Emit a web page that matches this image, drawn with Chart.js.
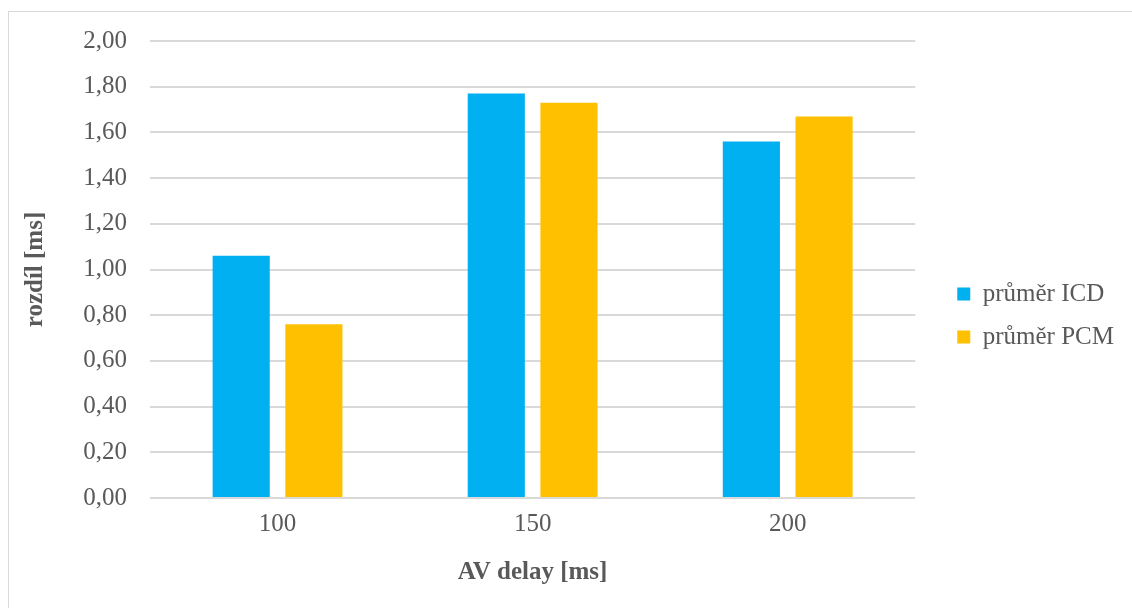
<!DOCTYPE html>
<html>
<head>
<meta charset="utf-8">
<script src="https://cdn.jsdelivr.net/npm/chart.js@4/dist/chart.umd.min.js"></script>
<style>
  html, body { margin: 0; padding: 0; background: #fff; overflow: hidden; }
  #frame { position: absolute; left: 8px; top: 11px; width: 1200px; height: 700px; border: 1px solid #d9d9d9; }
  #chart { position: absolute; left: 0; top: 0; }
</style>
</head>
<body>
<div id="frame"></div>
<canvas id="chart" width="1132" height="608"></canvas>
<script>
const categories = ['100', '150', '200'];
const icdValues = [1.06, 1.77, 1.56];
const pcmValues = [0.76, 1.73, 1.67];
const seriesNames = ['průměr ICD', 'průměr PCM'];
const yTicks = { min: 0, max: 2, step: 0.2 };

const font = 'Liberation Serif';
const textColor = '#595959';

// nudge the legend so it sits where Excel put it
const legendShift = {
  id: 'legendShift',
  afterLayout(chart) {
    const dx = 24, dy = -9;
    chart.legend.left += dx;
    chart.legend.right += dx;
    chart.legend.top += dy;
    chart.legend.bottom += dy;
  }
};

const ctx = document.getElementById('chart').getContext('2d');
new Chart(ctx, {
  type: 'bar',
  data: {
    labels: categories,
    datasets: [
      { label: seriesNames[0], data: icdValues, backgroundColor: '#00B0F0' },
      { label: seriesNames[1], data: pcmValues, backgroundColor: '#FFC000' }
    ]
  },
  options: {
    responsive: false,
    animation: false,
    categoryPercentage: 0.57,
    barPercentage: 0.786,
    layout: { padding: { left: 10, top: 41, right: 32, bottom: 0 } },
    plugins: {
      tooltip: { enabled: false },
      legend: {
        position: 'right',
        labels: {
          boxWidth: 13,
          boxHeight: 13,
          padding: 18,
          color: textColor,
          font: { family: font, size: 25 }
        }
      }
    },
    scales: {
      x: {
        grid: { display: false },
        border: { display: false },
        ticks: { color: textColor, padding: 3, font: { family: font, size: 25 } },
        title: {
          display: true,
          text: 'AV delay [ms]',
          color: textColor,
          padding: { top: 0, bottom: 20 },
          font: { family: font, size: 25, weight: 'bold' }
        },
        afterFit(scale) { scale.height = 110; }
      },
      y: {
        min: yTicks.min,
        max: yTicks.max,
        grid: { color: '#d9d9d9', lineWidth: 2, drawTicks: false },
        border: { display: false },
        ticks: {
          stepSize: yTicks.step,
          padding: 23,
          color: textColor,
          font: { family: font, size: 25 },
          callback: v => v.toFixed(2).replace('.', ',')
        },
        title: {
          display: true,
          text: 'rozdíl [ms]',
          color: textColor,
          padding: { top: 11, bottom: 0 },
          font: { family: font, size: 25, weight: 'bold' }
        },
        afterFit(scale) { scale.width = 140; }
      }
    }
  },
  plugins: [legendShift]
});
</script>
</body>
</html>
